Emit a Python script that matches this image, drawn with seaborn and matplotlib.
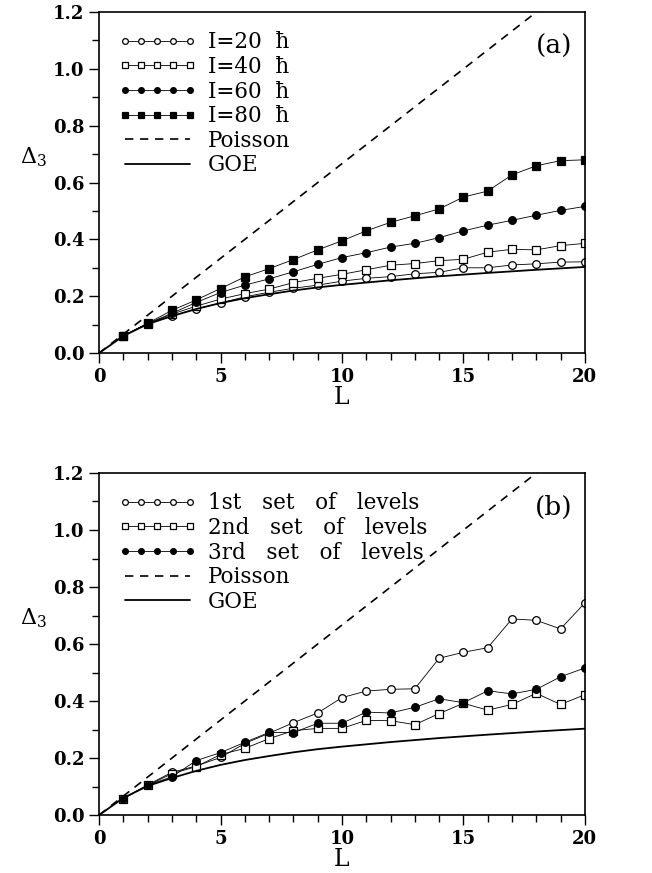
import numpy as np
import pandas as pd
import matplotlib
matplotlib.use("Agg")
import matplotlib.pyplot as plt
from matplotlib.ticker import MultipleLocator, FormatStrFormatter
import seaborn as sns

# data
L = list(range(1, 21))

i20 = [0.061, 0.102, 0.131, 0.155, 0.176, 0.198, 0.214, 0.228, 0.239, 0.253,
       0.263, 0.269, 0.279, 0.284, 0.300, 0.300, 0.310, 0.314, 0.320, 0.321]
i40 = [0.061, 0.103, 0.137, 0.165, 0.190, 0.209, 0.225, 0.248, 0.263, 0.277,
       0.293, 0.309, 0.315, 0.325, 0.330, 0.355, 0.365, 0.363, 0.378, 0.386]
i60 = [0.061, 0.104, 0.140, 0.178, 0.213, 0.239, 0.261, 0.286, 0.312, 0.336,
       0.353, 0.373, 0.386, 0.406, 0.430, 0.450, 0.467, 0.485, 0.502, 0.516]
i80 = [0.061, 0.105, 0.150, 0.187, 0.227, 0.268, 0.297, 0.329, 0.363, 0.395,
       0.430, 0.460, 0.483, 0.507, 0.549, 0.570, 0.627, 0.659, 0.677, 0.680]

set1 = [0.058, 0.106, 0.150, 0.172, 0.202, 0.251, 0.287, 0.324, 0.358, 0.412,
        0.435, 0.441, 0.443, 0.550, 0.571, 0.587, 0.688, 0.683, 0.653, 0.744]
set2 = [0.058, 0.104, 0.145, 0.170, 0.212, 0.234, 0.268, 0.296, 0.304, 0.304,
        0.332, 0.331, 0.317, 0.356, 0.392, 0.368, 0.388, 0.427, 0.388, 0.422]
set3 = [0.058, 0.105, 0.134, 0.191, 0.219, 0.255, 0.290, 0.289, 0.322, 0.322,
        0.361, 0.358, 0.378, 0.408, 0.394, 0.436, 0.425, 0.441, 0.485, 0.516]

poisson_L = [0, 20]
poisson_d = [0.0, 1.333]

goe_L = [0, 1, 2, 3, 4, 5, 6, 7, 8, 9, 10, 12, 14, 16, 18, 20]
goe_d = [0.0, 0.060, 0.102, 0.130, 0.155, 0.176, 0.193, 0.207, 0.220, 0.231,
         0.240, 0.256, 0.270, 0.282, 0.293, 0.303]

labels_a = ["I=20  ħ", "I=40  ħ", "I=60  ħ", "I=80  ħ"]
labels_b = ["1st   set   of   levels", "2nd   set   of   levels",
            "3rd   set   of   levels"]

sns.set_style("ticks")
plt.rcParams["font.family"] = ["DejaVu Serif"]
plt.rcParams["mathtext.fontset"] = "dejavuserif"
plt.rcParams["text.color"] = "black"
plt.rcParams["axes.labelcolor"] = "black"
plt.rcParams["xtick.color"] = "black"
plt.rcParams["ytick.color"] = "black"

fig = plt.figure(figsize=(6.52, 8.73), dpi=100)
ax_a = fig.add_axes([0.152, 0.5956, 0.745, 0.3906])
ax_b = fig.add_axes([0.152, 0.0664, 0.745, 0.3918])

styles = [
    dict(marker="o", markerfacecolor="white"),
    dict(marker="s", markerfacecolor="white"),
    dict(marker="o", markerfacecolor="black"),
    dict(marker="s", markerfacecolor="black"),
]


def draw(ax, series, labels, tag):
    for vals, lab, st in zip(series, labels, styles):
        sns.lineplot(x=L, y=vals, ax=ax, color="black", lw=0.6, markersize=5.5,
                     markeredgecolor="black", markeredgewidth=0.9, label=lab, **st)
    sns.lineplot(x=poisson_L, y=poisson_d, ax=ax, color="black", lw=1.2,
                 linestyle=(0, (5, 4)), label="Poisson")
    sns.lineplot(x=goe_L, y=goe_d, ax=ax, color="black", lw=1.3, label="GOE")

    ax.set_xlim(0, 20)
    ax.set_ylim(0, 1.2)
    ax.xaxis.set_major_locator(MultipleLocator(5))
    ax.xaxis.set_minor_locator(MultipleLocator(1))
    ax.yaxis.set_major_locator(MultipleLocator(0.2))
    ax.yaxis.set_minor_locator(MultipleLocator(0.1))
    ax.yaxis.set_major_formatter(FormatStrFormatter("%.1f"))
    ax.tick_params(which="major", direction="out", length=7, width=1.0,
                   labelsize=13, colors="black")
    ax.tick_params(which="minor", direction="out", length=5, width=1.0)
    for t in ax.get_xticklabels() + ax.get_yticklabels():
        t.set_fontweight("bold")
    for s in ax.spines.values():
        s.set_linewidth(1.2)
        s.set_color("black")
    ax.set_xlabel("L", fontsize=17, labelpad=0)
    ax.set_ylabel("")
    ax.text(-0.135, 0.69 / 1.2, r"$\Delta_3$", transform=ax.transAxes,
            fontsize=16, ha="center", va="center")
    ax.text(0.975, 0.9, tag, transform=ax.transAxes, fontsize=19,
            ha="right", va="center")
    ax.legend(loc="upper left", frameon=False, numpoints=5, handlelength=3.6,
              handletextpad=0.55, labelspacing=0.12, fontsize=15.5,
              markerscale=0.75, borderaxespad=0.5, bbox_to_anchor=(0.0, 1.0))


draw(ax_a, [i20, i40, i60, i80], labels_a, "(a)")
draw(ax_b, [set1, set2, set3], labels_b, "(b)")

fig.savefig("out.png", dpi=100)
